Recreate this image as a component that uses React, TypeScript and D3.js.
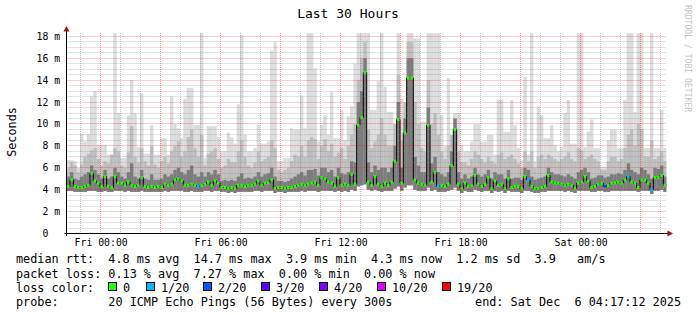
import React from 'react';
import * as d3 from 'd3';

// time axis: hours relative to Fri 00:00, one sample every 10 minutes
const START_HOUR = -1.7;
const STEP_HOURS = 1 / 6;

// median RTT (ms)
const median = [
  4.3, 4.9, 4.3, 4.2, 4.2, 4.3, 4.4, 5.5, 4.8, 4.6,
  4.3, 5.2, 4.3, 4.2, 5.2, 4.6, 4.6, 4.4, 4.7, 4.4,
  4.3, 4.4, 5.1, 4.3, 4.2, 4.3, 4.2, 4.3, 4.2, 4.5,
  4.4, 4.5, 4.9, 5.0, 4.8, 4.4, 4.4, 4.5, 4.4, 4.3,
  4.4, 4.5, 4.7, 4.4, 4.8, 4.6, 4.2, 4.2, 4.1, 4.2,
  4.1, 4.4, 4.4, 4.3, 4.4, 4.4, 4.5, 4.8, 4.4, 4.6,
  4.6, 4.9, 4.1, 4.2, 4.2, 4.1, 4.2, 4.2, 4.3, 4.4,
  4.5, 4.4, 4.5, 4.6, 4.7, 4.4, 5.1, 5.0, 4.7, 4.6,
  4.3, 5.1, 4.4, 4.5, 4.4, 5.4, 4.5, 9.9, 10.6, 14.7,
  4.7, 4.4, 5.2, 4.5, 4.3, 4.6, 4.4, 4.7, 6.6, 10.4,
  4.6, 9.2, 14.2, 14.2, 4.9, 4.6, 4.5, 4.4, 9.9, 4.7,
  5.6, 4.3, 4.4, 4.3, 4.5, 6.2, 9.5, 4.5, 4.1, 4.6,
  4.3, 4.4, 5.3, 4.5, 4.3, 4.5, 5.1, 4.1, 4.8, 4.4,
  4.5, 4.1, 5.0, 4.2, 4.3, 4.3, 4.1, 5.2, 4.9, 4.3,
  4.1, 4.1, 4.2, 4.3, 5.3, 4.7, 4.6, 4.6, 4.5, 4.4,
  4.5, 4.4, 4.1, 4.6, 4.7, 5.2, 4.8, 4.2, 4.3, 4.5,
  4.6, 4.3, 4.4, 4.6, 4.6, 4.7, 4.6, 4.9, 5.2, 4.7,
  4.6, 4.2, 4.9, 4.9, 4.6, 4.0, 5.1, 5.1, 5.3, 4.4,
];

// lowest ping (ms)
const minPing = [
  3.9, 3.9, 3.8, 3.8, 3.8, 3.8, 3.9, 3.9, 3.9, 3.8,
  3.8, 3.9, 3.8, 3.8, 3.9, 3.9, 3.9, 3.8, 3.9, 3.8,
  3.8, 3.8, 3.9, 3.8, 3.8, 3.8, 3.8, 3.8, 3.8, 3.9,
  3.8, 3.9, 3.9, 3.9, 3.9, 3.8, 3.8, 3.9, 3.8, 3.8,
  3.8, 3.9, 3.9, 3.8, 3.9, 3.9, 3.8, 3.8, 3.7, 3.8,
  3.7, 3.8, 3.8, 3.8, 3.8, 3.8, 3.9, 3.9, 3.8, 3.9,
  3.9, 3.9, 3.7, 3.8, 3.8, 3.7, 3.8, 3.8, 3.8, 3.8,
  3.9, 3.8, 3.9, 3.9, 3.9, 3.8, 3.9, 3.9, 3.9, 3.9,
  3.8, 3.9, 3.8, 3.9, 3.8, 4.0, 3.9, 4.3, 4.4, 4.5,
  4.0, 3.9, 4.0, 3.9, 3.8, 3.9, 3.9, 3.9, 4.1, 4.3,
  3.9, 4.2, 4.4, 4.4, 4.0, 3.9, 3.9, 3.9, 4.2, 3.9,
  4.0, 3.8, 3.8, 3.8, 3.9, 4.0, 4.2, 3.9, 3.7, 3.9,
  3.8, 3.8, 4.0, 3.9, 3.8, 3.9, 3.9, 3.7, 3.9, 3.8,
  3.9, 3.7, 3.9, 3.8, 3.8, 3.8, 3.7, 3.9, 3.9, 3.8,
  3.7, 3.7, 3.8, 3.8, 3.9, 3.9, 3.9, 3.9, 3.9, 3.8,
  3.9, 3.8, 3.7, 3.9, 3.9, 3.9, 3.9, 3.8, 3.8, 3.9,
  3.9, 3.8, 3.8, 3.9, 3.9, 3.9, 3.9, 3.9, 3.9, 3.9,
  3.9, 3.8, 3.9, 3.9, 3.9, 3.6, 3.9, 3.9, 4.0, 3.8,
];

// top of the dark inner smoke band (ms)
const smokeInner = [
  5.2, 5.6, 5.0, 4.9, 5.2, 5.4, 5.6, 6.2, 5.8, 5.4,
  5.0, 5.8, 5.0, 5.2, 6.0, 5.6, 5.2, 5.0, 5.6, 6.4,
  5.2, 5.0, 5.8, 5.0, 4.9, 5.4, 4.9, 4.9, 5.0, 5.4,
  5.2, 5.4, 5.8, 6.0, 5.6, 5.4, 5.8, 6.2, 5.4, 5.2,
  5.6, 5.2, 5.6, 5.4, 5.8, 5.4, 4.8, 4.9, 4.8, 4.9,
  4.8, 5.2, 5.5, 5.0, 5.1, 5.0, 5.2, 5.6, 5.2, 5.4,
  5.5, 6.0, 5.2, 4.8, 4.8, 4.7, 4.8, 5.0, 5.2, 5.4,
  5.6, 5.3, 5.8, 5.8, 5.9, 5.3, 6.0, 6.0, 5.6, 5.8,
  5.2, 6.0, 5.5, 5.4, 5.6, 6.6, 6.5, 12.0, 13.0, 16.0,
  6.5, 5.6, 6.2, 5.8, 6.0, 6.0, 5.6, 6.0, 8.0, 12.0,
  6.0, 10.5, 16.0, 16.0, 7.0, 6.2, 5.6, 5.6, 11.5, 6.4,
  7.0, 5.6, 5.4, 5.2, 5.6, 7.5, 10.5, 5.6, 5.0, 5.4,
  5.0, 5.2, 6.0, 5.4, 5.2, 5.4, 5.8, 5.0, 5.6, 5.4,
  5.4, 5.0, 5.8, 5.0, 5.1, 5.1, 4.9, 6.0, 5.8, 5.2,
  4.9, 5.0, 5.1, 5.2, 6.0, 5.6, 5.4, 5.4, 5.3, 5.2,
  5.4, 5.2, 5.0, 5.6, 5.8, 6.0, 5.6, 5.0, 5.1, 5.3,
  5.3, 5.1, 5.2, 5.4, 5.4, 5.5, 5.4, 5.8, 6.4, 5.8,
  5.6, 5.4, 6.0, 5.8, 5.4, 5.0, 6.0, 5.9, 6.2, 5.2,
];

// top of the middle grey smoke band (ms)
const smokeMid = [
  6.0, 6.5, 6.2, 5.6, 6.3, 7.0, 7.3, 7.6, 7.8, 6.8,
  6.2, 6.6, 6.4, 7.2, 7.8, 7.5, 6.2, 6.0, 7.4, 9.8,
  7.0, 6.5, 7.8, 6.6, 6.2, 8.0, 6.3, 6.0, 6.6, 7.0,
  6.4, 7.5, 8.0, 8.4, 7.0, 7.5, 8.8, 9.5, 7.8, 7.0,
  9.0, 6.2, 7.3, 7.5, 7.8, 6.8, 6.0, 6.2, 6.8, 6.5,
  6.5, 7.5, 8.5, 7.0, 6.2, 6.0, 6.5, 7.5, 6.6, 6.8,
  7.0, 8.5, 7.8, 5.8, 5.6, 5.8, 6.0, 6.6, 7.2, 7.0,
  8.0, 7.0, 8.5, 8.8, 8.6, 6.8, 8.0, 8.6, 7.5, 8.2,
  7.0, 7.4, 7.8, 6.8, 8.0, 9.0, 10.0, 14.0, 16.0, 17.5,
  9.5, 7.8, 8.4, 9.0, 10.5, 9.0, 8.0, 8.0, 10.0, 14.5,
  8.5, 12.0, 17.5, 17.5, 12.0, 10.0, 7.8, 7.5, 14.0, 10.0,
  11.0, 9.0, 7.5, 6.8, 8.0, 9.0, 10.5, 7.5, 6.5, 6.5,
  6.2, 6.8, 7.5, 7.2, 6.8, 6.5, 7.0, 6.6, 6.4, 7.2,
  7.4, 6.8, 7.0, 7.2, 6.8, 6.4, 6.0, 7.5, 6.6, 7.5,
  6.0, 7.0, 7.2, 6.8, 7.2, 7.0, 6.8, 6.6, 6.8, 7.0,
  7.4, 6.8, 6.6, 7.8, 7.6, 6.8, 7.0, 7.2, 6.8, 6.6,
  5.8, 5.8, 6.6, 7.0, 7.0, 6.6, 6.8, 7.8, 9.0, 9.5,
  8.0, 10.0, 9.5, 7.0, 7.0, 8.5, 6.8, 7.0, 7.5, 6.6,
];

// highest ping (ms)
const maxPing = [
  6.7, 6.7, 6.6, 6.0, 9.1, 8.4, 9.1, 12.5, 13.0, 8.1,
  8.1, 8.1, 7.2, 7.2, 18.3, 11.0, 6.9, 6.9, 10.8, 14.0,
  11.0, 7.9, 12.8, 7.3, 7.3, 9.9, 7.2, 7.2, 8.7, 8.7,
  7.2, 12.5, 10.0, 9.6, 8.7, 12.3, 13.3, 13.3, 9.9, 9.9,
  18.3, 6.9, 9.8, 9.8, 9.8, 8.8, 7.5, 7.5, 9.2, 8.8,
  8.2, 11.8, 18.1, 9.0, 7.5, 7.5, 7.8, 9.9, 8.2, 8.2,
  8.4, 16.7, 17.5, 6.6, 6.6, 6.9, 6.9, 9.6, 9.5, 9.5,
  12.6, 9.6, 18.3, 18.3, 15.1, 8.4, 9.9, 10.8, 9.0, 12.9,
  8.7, 8.7, 11.3, 8.5, 10.7, 11.6, 15.5, 18.3, 18.3, 18.3,
  18.3, 11.3, 11.3, 13.9, 18.3, 13.4, 11.1, 11.1, 9.0, 18.3,
  12.3, 8.7, 18.3, 18.3, 17.8, 17.8, 10.2, 10.2, 18.3, 18.3,
  18.3, 18.3, 10.8, 8.0, 14.2, 8.5, 11.0, 11.0, 8.1, 7.5,
  7.5, 8.4, 10.0, 10.0, 8.4, 8.4, 9.0, 9.0, 7.2, 12.2,
  12.2, 9.3, 9.3, 12.2, 9.9, 7.8, 6.7, 14.3, 7.2, 18.3,
  6.6, 11.6, 10.8, 8.7, 8.7, 9.9, 8.1, 7.5, 7.9, 11.0,
  12.2, 8.2, 8.2, 18.3, 18.3, 7.9, 9.3, 10.4, 7.8, 7.8,
  6.1, 6.1, 8.5, 9.5, 9.5, 7.8, 7.8, 12.2, 18.3, 18.3,
  11.1, 18.3, 18.3, 7.8, 7.8, 18.3, 7.8, 7.8, 11.3, 7.8,
];

// pings lost out of 20
const lossCount = [
  0, 0, 0, 0, 0, 0, 0, 0, 0, 0, 0, 0, 0, 0, 0, 0, 0, 0, 0, 0,
  0, 0, 0, 0, 0, 0, 0, 0, 0, 0, 0, 0, 0, 0, 0, 0, 0, 0, 0, 1,
  0, 0, 0, 0, 0, 0, 0, 0, 0, 0, 0, 0, 0, 0, 0, 0, 0, 0, 0, 0,
  0, 0, 0, 0, 0, 0, 0, 0, 0, 0, 0, 0, 0, 0, 0, 0, 0, 0, 0, 0,
  0, 0, 0, 0, 0, 0, 0, 0, 0, 0, 0, 0, 0, 0, 0, 0, 0, 0, 0, 0,
  0, 0, 0, 0, 0, 0, 0, 0, 0, 0, 0, 1, 0, 0, 0, 0, 0, 0, 0, 0,
  0, 0, 0, 0, 0, 0, 0, 0, 0, 0, 0, 0, 0, 0, 0, 0, 0, 0, 1, 0,
  0, 0, 0, 0, 0, 0, 0, 0, 0, 0, 0, 0, 0, 0, 0, 0, 0, 0, 0, 0,
  0, 2, 0, 0, 0, 0, 0, 0, 1, 0, 0, 0, 0, 0, 0, 1, 0, 0, 0, 0,
];

const yTickValues = [0, 2, 4, 6, 8, 10, 12, 14, 16, 18];
const xLabelHours = [0, 6, 12, 18, 24];
const xLabelTexts = ['Fri 00:00', 'Fri 06:00', 'Fri 12:00', 'Fri 18:00', 'Sat 00:00'];

const lossLabels = ['0', '1/20', '2/20', '3/20', '4/20', '10/20', '19/20'];
const lossColors = ['#26ff00', '#00b8ff', '#0059ff', '#5e00ff', '#7e00ff', '#dd00ff', '#ff0000'];
const lossThresholds = [0, 1, 2, 3, 4, 10, 19];

const legendLines = [
  'median rtt:  4.8 ms avg  14.7 ms max  3.9 ms min  4.3 ms now  1.2 ms sd  3.9   am/s',
  'packet loss: 0.13 % avg  7.27 % max  0.00 % min  0.00 % now',
];
const probeLine = 'probe:       20 ICMP Echo Pings (56 Bytes) every 300s';
const endLine = 'end: Sat Dec  6 04:17:12 2025';

const MONO = "'DejaVu Sans Mono', 'Liberation Mono', monospace";

function lossColor(n: number): string {
  let c = lossColors[0];
  lossThresholds.forEach((t, k) => {
    if (n >= t) c = lossColors[k];
  });
  return c;
}

export default function App() {
  const x = d3.scaleLinear().domain([-1.713, 28.287]).range([66.4, 666.4]);
  const y = d3.scaleLinear().domain([0, 18.27]).range([233.5, 33.4]);
  const snap = (v: number) => Math.floor(v) + 0.5;

  const samples = median.map((m, i) => ({
    t0: START_HOUR + i * STEP_HOURS,
    t1: START_HOUR + (i + 1) * STEP_HOURS,
    med: m,
    lo: minPing[i],
    inner: smokeInner[i],
    mid: smokeMid[i],
    max: maxPing[i],
    loss: lossCount[i],
  }));

  const bands: { key: 'max' | 'mid' | 'inner'; color: string }[] = [
    { key: 'max', color: '#dcdcdc' },
    { key: 'mid', color: '#bebebe' },
    { key: 'inner', color: '#7c7c7c' },
  ];

  const stepPts: [number, number][] = samples.map((s) => [x(s.t0), y(s.med)]);
  const last = samples[samples.length - 1];
  stepPts.push([x(last.t1), y(last.med)]);
  const medLine = d3.line().curve(d3.curveStepAfter)(stepPts) || '';

  const minorY = d3.range(0, 18.01, 0.5).filter((v) => v % 2 !== 0);
  const majorY = yTickValues;
  const minorX = d3.range(-1, 29, 1).filter((h) => h % 3 !== 0);
  const majorX = d3.range(0, 29, 3);

  const plotL = 66.5;
  const plotR = 666.5;
  const plotT = 33;
  const plotB = 233.5;

  const legendBoxX = [108.5, 146.5, 203.5, 261.5, 319.5, 377.5, 442.5];

  return (
    <svg
      width={697}
      height={315}
      style={{ position: 'absolute', left: 0, top: 0, background: '#fff' }}
      fontFamily={MONO}
    >
      <rect x={0} y={0} width={697} height={315} fill="#ffffff" />
      <defs>
        <clipPath id="plotclip">
          <rect x={plotL} y={plotT} width={plotR - plotL} height={plotB - plotT} />
        </clipPath>
      </defs>

      <text x={348} y={18} fontSize={13} textAnchor="middle" fill="#000">
        Last 30 Hours
      </text>

      <g clipPath="url(#plotclip)">
        {bands.map((b) => (
          <g key={b.key}>
            {samples.map((s, i) => (
              <rect
                key={i}
                x={x(s.t0)}
                width={x(s.t1) - x(s.t0) + 0.08}
                y={y(s[b.key])}
                height={Math.max(0, y(s.lo) - y(s[b.key]))}
                fill={b.color}
              />
            ))}
          </g>
        ))}
        <path d={medLine} fill="none" stroke="#000" strokeWidth={1} />
        {samples.map((s, i) => (
          <rect
            key={'m' + i}
            x={x(s.t0) + 0.3}
            width={2.6}
            y={y(s.med) - 1.5}
            height={3}
            fill={lossColor(s.loss)}
          />
        ))}
      </g>

      {/* grid */}
      <g strokeDasharray="1,1" strokeWidth={1}>
        {minorY.map((v) => (
          <line key={'my' + v} x1={plotL} x2={plotR} y1={snap(y(v))} y2={snap(y(v))} stroke="rgba(128,128,128,0.45)" />
        ))}
        {minorX.map((h) => (
          <line key={'mx' + h} x1={snap(x(h))} x2={snap(x(h))} y1={plotT} y2={plotB} stroke="rgba(128,128,128,0.45)" />
        ))}
        {majorY.filter((v) => v > 0).map((v) => (
          <line key={'My' + v} x1={plotL} x2={plotR} y1={snap(y(v))} y2={snap(y(v))} stroke="rgba(255,0,0,0.4)" />
        ))}
        {majorX.map((h) => (
          <line key={'Mx' + h} x1={snap(x(h))} x2={snap(x(h))} y1={plotT} y2={plotB} stroke="rgba(255,0,0,0.4)" />
        ))}
      </g>

      {/* axes */}
      <line x1={64.5} x2={669} y1={233.5} y2={233.5} stroke="#000" />
      <line x1={66.5} x2={66.5} y1={236} y2={30} stroke="#000" />
      <path d="M66.5,26 L63.5,31.5 L69.5,31.5 Z" fill="#a01010" />
      <path d="M673,233.5 L667.5,230.5 L667.5,236.5 Z" fill="#a01010" />

      {/* y labels */}
      {yTickValues.map((v) => (
        <g key={'yl' + v} fontSize={9.8} fill="#000">
          <text x={48.3} y={snap(y(v)) + 3.4} textAnchor="end">
            {v}
          </text>
          {v > 0 && (
            <text x={54.2} y={snap(y(v)) + 3.4}>
              m
            </text>
          )}
        </g>
      ))}

      {/* x labels */}
      {xLabelHours.map((h, k) => (
        <text key={'xl' + h} x={x(h) + 0.5} y={246} fontSize={9.8} textAnchor="middle" fill="#000">
          {xLabelTexts[k]}
        </text>
      ))}

      <text transform="translate(15.5,132) rotate(-90)" fontSize={11.8} textAnchor="middle" fill="#000">
        Seconds
      </text>

      <text transform="translate(684.5,5) rotate(90)" fontSize={8.1} fill="#c4c4c4">
        RRDTOOL / TOBI OETIKER
      </text>

      {/* legend */}
      <g fontSize={11.8} fill="#000" style={{ whiteSpace: 'pre' }}>
        <text x={16} y={263.3} xmlSpace="preserve">{legendLines[0]}</text>
        <text x={16} y={277.5} xmlSpace="preserve">{legendLines[1]}</text>
        <text x={16} y={291.7}>loss color:</text>
        {lossLabels.map((lab, k) => (
          <g key={'lg' + k}>
            <rect x={legendBoxX[k]} y={282.5} width={8} height={8} fill={lossColors[k]} stroke="#000" strokeWidth={1} />
            <text x={legendBoxX[k] + 14.5} y={291.7}>{lab}</text>
          </g>
        ))}
        <text x={16} y={305.9} xmlSpace="preserve">{probeLine}</text>
        <text x={681} y={305.9} textAnchor="end" xmlSpace="preserve">{endLine}</text>
      </g>
    </svg>
  );
}
